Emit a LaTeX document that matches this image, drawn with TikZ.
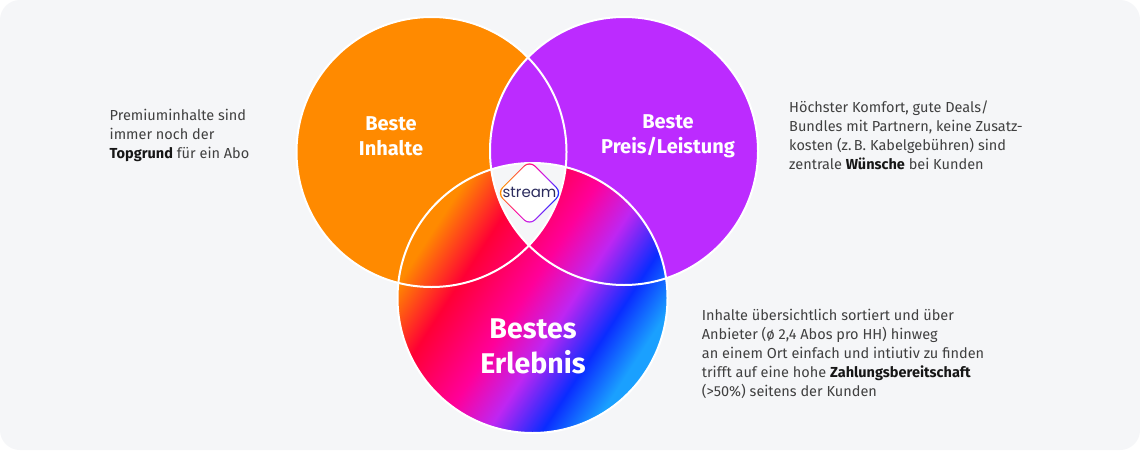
\documentclass[tikz,border=0pt]{standalone}
\usepackage{fontspec}
\setmainfont{Fira Sans}
\newfontfamily\logofont{Poppins}
\usepackage{tikz}

\definecolor{bggray}{HTML}{F5F6F8}
\definecolor{inhalteorange}{HTML}{FF8A00}
\definecolor{preislila}{HTML}{BC2BFF}
\definecolor{erlred}{HTML}{FF0035}
\definecolor{erlpink}{HTML}{FF0099}
\definecolor{erlpurple}{HTML}{BE26F2}
\definecolor{erlblue}{HTML}{0A2CFF}
\definecolor{erllightblue}{HTML}{1AA0FF}
\definecolor{bodytext}{HTML}{404040}
\definecolor{boldtext}{HTML}{161616}
\definecolor{logonavy}{HTML}{2C2C5E}

\pgfdeclarehorizontalshading{erlebnis}{100bp}{color(0bp)=(inhalteorange); color(27.5bp)=(inhalteorange); color(37bp)=(erlred); color(48.5bp)=(erlpink); color(56.5bp)=(erlpurple); color(65bp)=(erlblue); color(72.5bp)=(erllightblue); color(100bp)=(erllightblue)}
\pgfdeclarehorizontalshading{logoring}{100bp}{color(0bp)=(inhalteorange); color(30bp)=(inhalteorange); color(45bp)=(erlpink); color(58bp)=(erlpurple); color(72bp)=(erlblue); color(100bp)=(erlblue)}

\newcommand{\kw}[1]{\textbf{\color{boldtext}#1}}

\begin{document}
\begin{tikzpicture}[x=1pt,y=-1pt,
        ring/.style={draw=white,line width=2pt},
        circlabel/.style={text=white,align=center,inner sep=0pt,font=\bfseries\fontsize{20}{25}\selectfont},
        info/.style={anchor=base west,align=left,inner sep=0pt,text=bodytext,font=\fontsize{14.5}{19}\selectfont}]
        \useasboundingbox (0,0) rectangle (1140,450);
        \fill[white] (0,0) rectangle (1140,450);
        \fill[bggray,rounded corners=20pt] (0,0) rectangle (1140,450);
        \coordinate (inhalte) at (431.5,152);
        \coordinate (preis) at (624,151);
        \coordinate (erlebnis) at (532.5,298);
        % Kreise
        \fill[inhalteorange] (inhalte) circle (135pt);
        \fill[preislila] (preis) circle (134pt);
        \shade[shading=erlebnis,shading angle=-33] (erlebnis) circle (135pt);
        % Mitte frei lassen
        \begin{scope}
            \clip (inhalte) circle (135pt);
            \clip (preis) circle (134pt);
            \fill[bggray] (erlebnis) circle (135pt);
        \end{scope}
        \draw[ring] (inhalte) circle (135pt);
        \draw[ring] (preis) circle (134pt);
        \draw[ring] (erlebnis) circle (135pt);
        \node[circlabel] (inhaltelabel) at (391,136) {Beste\\Inhalte};
        \node[circlabel] (preislabel) at (668,136) {Beste\\Preis/Leistung};
        \node[circlabel,font=\bfseries\fontsize{28.5}{35}\selectfont] (erlebnislabel) at (533,346) {Bestes\\Erlebnis};
        % Logo
        \shade[shading=logoring,shading angle=-20,rounded corners=8pt] (529.5,160) -- (562.5,193) -- (529.5,226) -- (496.5,193) -- cycle;
        \fill[white,rounded corners=7.5pt] (529.5,161.6) -- (560.9,193) -- (529.5,224.4) -- (498.1,193) -- cycle;
        \node[text=logonavy,font=\logofont\fontsize{15}{15}\selectfont] (logo) at (529.5,192) {stream};
        % Texte (Anker an der letzten Zeile)
        \node[info] (infoinhalte) at (109.5,158.7) {Premiuminhalte sind\\immer noch der\\\kw{Topgrund} für ein Abo};
        \node[info] (infopreis) at (789,169.7) {Höchster Komfort, gute Deals/\\Bundles mit Partnern, keine Zusatz-\\kosten (z.\,B. Kabelgebühren) sind\\zentrale \kw{Wünsche} bei Kunden};
        \node[info] (infoerlebnis) at (701.7,396.7) {Inhalte übersichtlich sortiert und über\\Anbieter (ø 2,4 Abos pro HH) hinweg\\an einem Ort einfach und intiutiv zu finden\\trifft auf eine hohe \kw{Zahlungsbereitschaft}\\(>50\%) seitens der Kunden};
\end{tikzpicture}
\end{document}
